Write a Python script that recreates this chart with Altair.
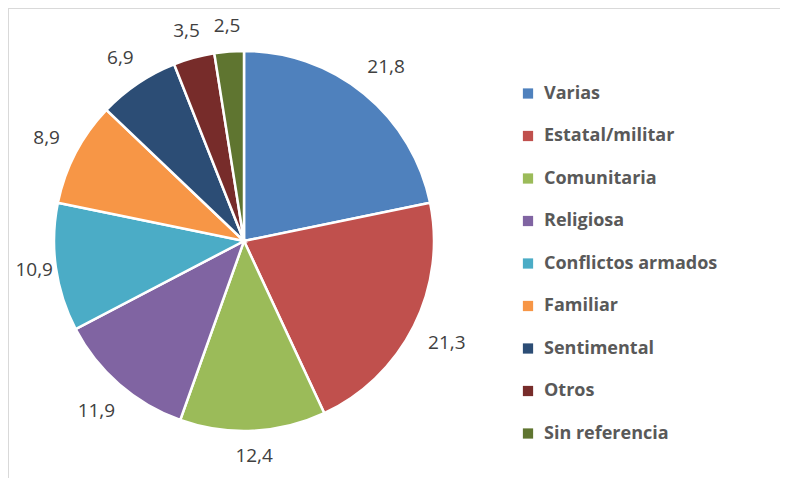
import altair as alt
import pandas as pd

categories = ["Varias", "Estatal/militar", "Comunitaria", "Religiosa", "Conflictos armados",
              "Familiar", "Sentimental", "Otros", "Sin referencia"]
values = [21.8, 21.3, 12.4, 11.9, 10.9, 8.9, 6.9, 3.5, 2.5]
labels = ["21,8", "21,3", "12,4", "11,9", "10,9", "8,9", "6,9", "3,5", "2,5"]
colors = ["#4F81BD", "#C0504D", "#9BBB59", "#8064A2", "#4BACC6",
          "#F79646", "#2C4D75", "#772C2A", "#5F7530"]

df = pd.DataFrame({"cat": categories, "val": values, "lab": labels,
                   "idx": list(range(len(categories)))})

W, H = 772, 470
CX, CY = 236, 233
R = 190

arcs = alt.Chart(df).mark_arc(stroke="white", strokeWidth=2.5, outerRadius=R).encode(
    theta=alt.Theta("val:Q", stack=True),
    order=alt.Order("idx:Q"),
    x=alt.value(CX), y=alt.value(CY),
    color=alt.Color("cat:N", sort=categories,
                    scale=alt.Scale(domain=categories, range=colors),
                    legend=alt.Legend(title=None, orient="none", legendX=511, legendY=76.5,
                                      symbolType="square", symbolSize=105,
                                      symbolStrokeWidth=0,
                                      labelFont="Open Sans", labelFontSize=18,
                                      labelFontWeight="bold", labelColor="#595959",
                                      rowPadding=24.5, labelOffset=7,
                                      labelLimit=300)),
)

# label angle = middle of the slice; distance = pie edge + gap + half the text box
# along the radial direction, kept inside the left frame (as the spreadsheet does)
texts = alt.Chart(df).mark_text(font="Open Sans", fontSize=19, color="#404040").encode(
    theta=alt.Theta("mid:Q", scale=None, stack=None),
    radius=alt.Radius("r:Q", scale=None),
    x=alt.value(CX), y=alt.value(CY),
    text="lab:N",
).transform_joinaggregate(
    total="sum(val)"
).transform_window(
    cum="sum(val)", sort=[alt.SortField("idx")], frame=[None, 0]
).transform_calculate(
    mid="(datum.cum - datum.val/2) / datum.total * 2 * PI",
    w="length(datum.lab) * 9.6",
).transform_calculate(
    rb="206 + abs(sin(datum.mid)) * datum.w / 2 + abs(cos(datum.mid)) * 8.5",
).transform_calculate(
    r=f"sin(datum.mid) < -0.5 ? min(datum.rb, ({CX} - 7 - datum.w / 2) / abs(sin(datum.mid))) : datum.rb"
)

frame_left = alt.Chart(df).mark_rule(color="#d9d9d9", strokeWidth=1.5).encode(
    x=alt.value(0), y=alt.value(0), y2=alt.value(H + 10))
frame_top = alt.Chart(df).mark_rule(color="#d9d9d9", strokeWidth=1.5).encode(
    x=alt.value(0), x2=alt.value(W + 10), y=alt.value(0))

chart = alt.layer(frame_left, frame_top, arcs, texts).properties(
    width=W, height=H,
    autosize=alt.AutoSizeParams(type="none"),
    padding=0,
).configure_view(stroke=None)

chart.save("out.html", embed_options={"renderer": "svg", "actions": False})
